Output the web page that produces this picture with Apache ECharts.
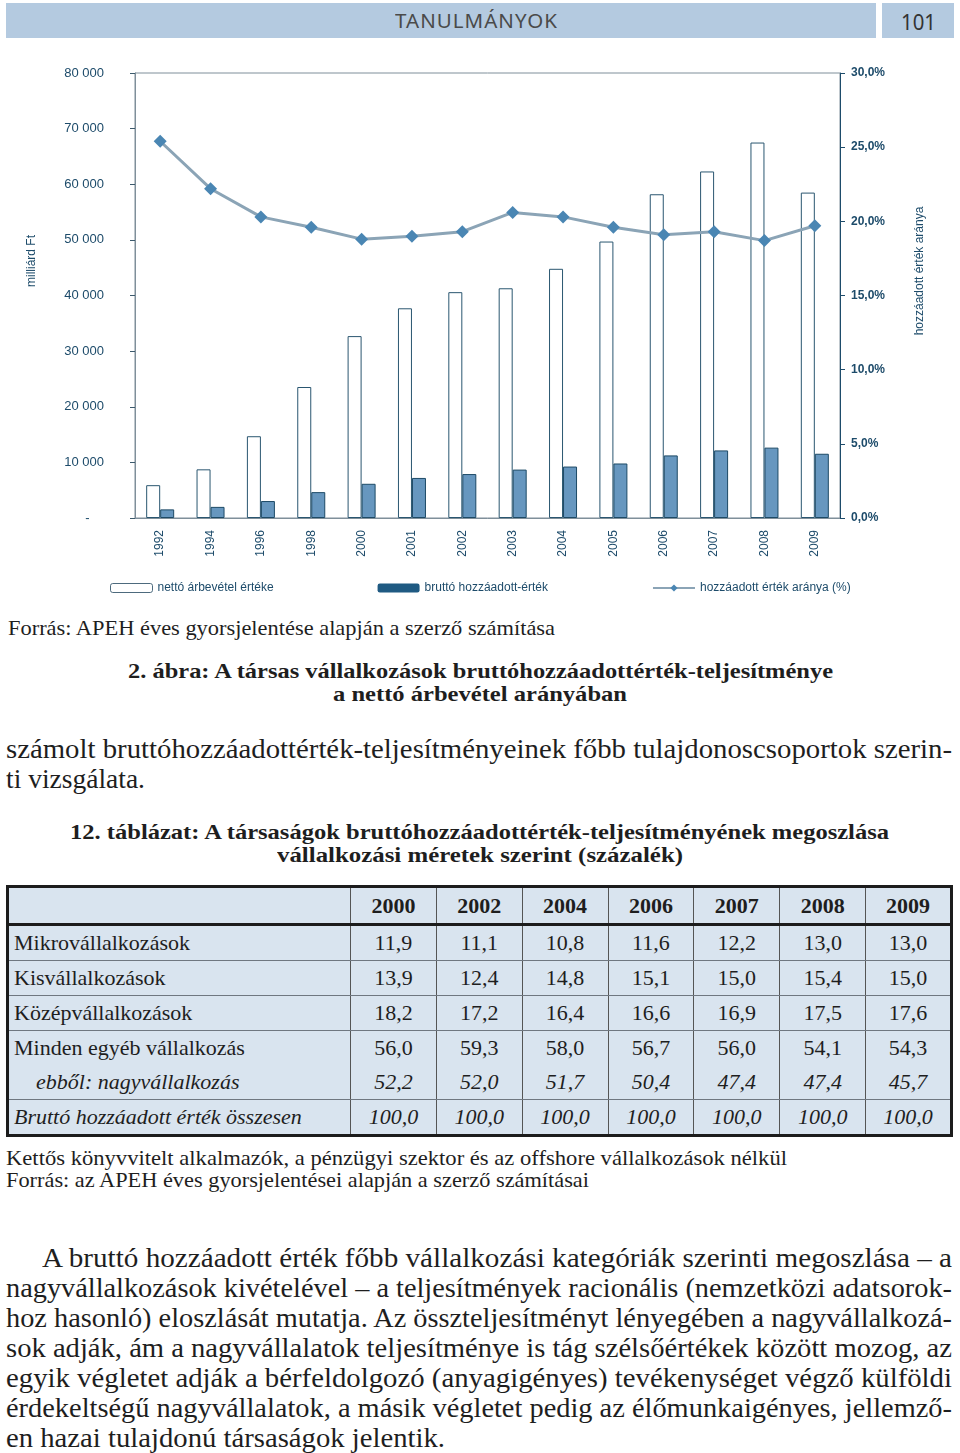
<!DOCTYPE html>
<html>
<head>
<meta charset="utf-8">
<script src="https://cdn.jsdelivr.net/npm/echarts@6/dist/echarts.min.js"></script>
<style>
  body { margin: 0; background: #fff; }
  #page { position: relative; width: 960px; height: 1453px; overflow: hidden; font-family: "Liberation Serif", serif; color: #1e1e1e; }
  .abs { position: absolute; white-space: nowrap; }
  .fit { display: inline-block; transform-origin: 0 50%; }
  .bar { position: absolute; background: #b4cae0; }
  #chart { position: absolute; left: 0; top: 45px; width: 960px; height: 565px; }
  table { position: absolute; left: 6px; top: 885px; width: 947px; border-collapse: collapse; background: #d9e4ef;
          border: 3px solid #1c1c1c; font-size: 22px; table-layout: fixed; }
  td { border-left: 1px solid #555; padding: 0; height: 34px; text-align: center; line-height: 34px; }
  td.name { text-align: left; padding-left: 5px; border-left: none; }
  tr.head td { font-weight: bold; font-size: 22px; height: 35px; line-height: 35px; border-bottom: 3px solid #1c1c1c; }
  tr.line td { border-bottom: 1px solid #6f7780; }
  tr.it td { font-style: italic; }
</style>
</head>
<body>
<div id="page">
  <div class="bar" style="left:6px;top:3px;width:870px;height:35px;"></div>
  <div class="bar" style="left:882px;top:3px;width:72px;height:35px;"></div>
  <div class="abs" style="left:395px;top:8px;font:20px 'Noto Sans';color:#4a4a4a;letter-spacing:1px;line-height:25px;"><span class="fit" data-w="163">TANULMÁNYOK</span></div>
  <div class="abs" style="left:901px;top:7px;font:22px 'Noto Sans';color:#333;line-height:28px;"><span class="fit" data-w="35">101</span></div>

  <div id="chart"></div>

  <div class="abs" style="left:8px;top:617px;font-size:21px;line-height:22px;"><span class="fit" data-w="547">Forrás: APEH éves gyorsjelentése alapján a szerző számítása</span></div>
  <div class="abs" style="left:128px;top:659px;font-size:22px;font-weight:bold;line-height:24px;"><span class="fit" data-w="705">2. ábra: A társas vállalkozások bruttóhozzáadottérték-teljesítménye</span></div>
  <div class="abs" style="left:333px;top:682px;font-size:22px;font-weight:bold;line-height:24px;"><span class="fit" data-w="294">a nettó árbevétel arányában</span></div>

  <div class="abs" style="left:6px;top:734px;font-size:28px;line-height:30px;"><span class="fit" data-w="946">számolt bruttóhozzáadottérték-teljesítményeinek főbb tulajdonoscsoportok szerin-</span></div>
  <div class="abs" style="left:6px;top:764px;font-size:28px;line-height:30px;"><span class="fit" data-w="139">ti vizsgálata.</span></div>

  <div class="abs" style="left:70px;top:820px;font-size:22px;font-weight:bold;line-height:24px;"><span class="fit" data-w="819">12. táblázat: A társaságok bruttóhozzáadottérték-teljesítményének megoszlása</span></div>
  <div class="abs" style="left:277px;top:843px;font-size:22px;font-weight:bold;line-height:24px;"><span class="fit" data-w="406">vállalkozási méretek szerint (százalék)</span></div>

  <table id="tbl"></table>

  <div class="abs" style="left:6px;top:1147px;font-size:21px;line-height:22px;"><span class="fit" data-w="781">Kettős könyvvitelt alkalmazók, a pénzügyi szektor és az offshore vállalkozások nélkül</span></div>
  <div class="abs" style="left:6px;top:1169px;font-size:21px;line-height:22px;"><span class="fit" data-w="583">Forrás: az APEH éves gyorsjelentései alapján a szerző számításai</span></div>

  <div class="abs" style="left:42px;top:1243px;font-size:28px;line-height:30px;"><span class="fit" data-w="910">A bruttó hozzáadott érték főbb vállalkozási kategóriák szerinti megoszlása – a</span></div>
  <div class="abs" style="left:6px;top:1273px;font-size:28px;line-height:30px;"><span class="fit" data-w="946">nagyvállalkozások kivételével – a teljesítmények racionális (nemzetközi adatsorok-</span></div>
  <div class="abs" style="left:6px;top:1303px;font-size:28px;line-height:30px;"><span class="fit" data-w="946">hoz hasonló) eloszlását mutatja. Az összteljesítményt lényegében a nagyvállalkozá-</span></div>
  <div class="abs" style="left:6px;top:1333px;font-size:28px;line-height:30px;"><span class="fit" data-w="946">sok adják, ám a nagyvállalatok teljesítménye is tág szélsőértékek között mozog, az</span></div>
  <div class="abs" style="left:6px;top:1363px;font-size:28px;line-height:30px;"><span class="fit" data-w="946">egyik végletet adják a bérfeldolgozó (anyagigényes) tevékenységet végző külföldi</span></div>
  <div class="abs" style="left:6px;top:1393px;font-size:28px;line-height:30px;"><span class="fit" data-w="946">érdekeltségű nagyvállalatok, a másik végletet pedig az élőmunkaigényes, jellemző-</span></div>
  <div class="abs" style="left:6px;top:1423px;font-size:28px;line-height:30px;"><span class="fit" data-w="439">en hazai tulajdonú társaságok jelentik.</span></div>
</div>

<script>
// chart data (milliárd Ft, %)
var years = ['1992','1994','1996','1998','2000','2001','2002','2003','2004','2005','2006','2007','2008','2009'];
var netRevenue = [5900, 8750, 14700, 23550, 32700, 37700, 40600, 41300, 44800, 49700, 58200, 62300, 67500, 58500];
var grossValueAdded = [1550, 2000, 3050, 4650, 6150, 7200, 7900, 8700, 9250, 9800, 11250, 12150, 12650, 11550];
var valueAddedRatio = [25.4, 22.2, 20.3, 19.6, 18.8, 19.0, 19.3, 20.6, 20.3, 19.6, 19.1, 19.3, 18.7, 19.7];

// table data (százalék)
var tableYears = ['2000','2002','2004','2006','2007','2008','2009'];
var microShare = [11.9, 11.1, 10.8, 11.6, 12.2, 13.0, 13.0];
var smallShare = [13.9, 12.4, 14.8, 15.1, 15.0, 15.4, 15.0];
var mediumShare = [18.2, 17.2, 16.4, 16.6, 16.9, 17.5, 17.6];
var otherShare = [56.0, 59.3, 58.0, 56.7, 56.0, 54.1, 54.3];
var largeShare = [52.2, 52.0, 51.7, 50.4, 47.4, 47.4, 45.7];
var totalShare = [100.0, 100.0, 100.0, 100.0, 100.0, 100.0, 100.0];

var navy = '#1d4b6a';
var fmtHu = function (v) { return v.toFixed(1).replace('.', ','); };

var myChart = echarts.init(document.getElementById('chart'));
option = {
    animation: false,
    grid: {
        left: 135, right: 120, top: 28, bottom: 92,
        show: true, borderColor: '#7f8f9a', borderWidth: 1
    },
    legend: {
        left: 105, top: 532,
        itemWidth: 42, itemHeight: 9, itemGap: 104,
        textStyle: { color: navy, fontSize: 12, fontFamily: 'Liberation Sans' },
        data: [
            { name: 'nettó árbevétel értéke', itemStyle: { color: '#fff', borderColor: '#4d6a7d', borderWidth: 1 } },
            { name: 'bruttó hozzáadott-érték', itemStyle: { color: '#1f5a82', borderWidth: 0 } },
            { name: 'hozzáadott érték aránya (%)' }
        ]
    },
    graphic: [
        { type: 'text', x: 32, y: 216, rotation: Math.PI / 2,
          style: { text: 'milliárd Ft', fill: navy, font: '12px Liberation Sans', align: 'center', verticalAlign: 'middle' } },
        { type: 'text', x: 920, y: 226, rotation: Math.PI / 2,
          style: { text: 'hozzáadott érték aránya', fill: navy, font: '12px Liberation Sans', align: 'center', verticalAlign: 'middle' } }
    ],
    xAxis: {
        type: 'category',
        data: years,
        axisLine: { lineStyle: { color: '#7f8f9a' } },
        axisTick: { length: 5, lineStyle: { color: '#3c5a6c' } },
        axisLabel: { rotate: 90, margin: 12, interval: 0, color: navy, fontSize: 12, fontFamily: 'Liberation Sans' }
    },
    yAxis: [
        {
            type: 'value', min: 0, max: 80000, interval: 10000,
            axisLine: { show: true, lineStyle: { color: '#7f8f9a' } },
            axisTick: { show: true, length: 5, lineStyle: { color: '#3c5a6c' } },
            splitLine: { show: false },
            axisLabel: {
                margin: 31, color: navy, fontSize: 13, fontFamily: 'Liberation Sans',
                formatter: function (v) { return v === 0 ? '-    ' : String(v / 1000) + ' 000'; }
            }
        },
        {
            type: 'value', position: 'right', min: 0, max: 30, interval: 5,
            axisLine: { show: true, lineStyle: { color: navy } },
            axisTick: { show: true, length: 5, lineStyle: { color: navy } },
            splitLine: { show: false },
            axisLabel: {
                margin: 11, color: navy, fontSize: 12, fontWeight: 'bold', fontFamily: 'Liberation Sans',
                formatter: function (v) { return fmtHu(v) + '%'; }
            }
        }
    ],
    series: [
        {
            name: 'nettó árbevétel értéke',
            type: 'bar',
            barWidth: 14, barGap: '0%',
            itemStyle: { color: '#fff', borderColor: '#2a5670', borderWidth: 1 },
            data: netRevenue
        },
        {
            name: 'bruttó hozzáadott-érték',
            type: 'bar',
            barWidth: 14,
            itemStyle: { color: '#6797bf', borderColor: '#1d4a66', borderWidth: 1 },
            data: grossValueAdded
        },
        {
            name: 'hozzáadott érték aránya (%)',
            type: 'line',
            yAxisIndex: 1,
            symbol: 'diamond', symbolSize: 13,
            itemStyle: { color: '#4a86b3' },
            lineStyle: { color: '#8ba4b6', width: 3 },
            data: valueAddedRatio
        }
    ]
};
myChart.setOption(option);

// table
var tableRows = [
    { name: 'Mikrovállalkozások', values: microShare, cls: 'line' },
    { name: 'Kisvállalkozások', values: smallShare, cls: 'line' },
    { name: 'Középvállalkozások', values: mediumShare, cls: 'line' },
    { name: 'Minden egyéb vállalkozás', values: otherShare, cls: '' },
    { name: '&nbsp;&nbsp;&nbsp;&nbsp;ebből: nagyvállalkozás', values: largeShare, cls: 'line it' },
    { name: 'Bruttó hozzáadott érték összesen', values: totalShare, cls: 'it' }
];
var html = '<colgroup><col style="width:343px">';
tableYears.forEach(function () { html += '<col>'; });
html += '</colgroup><tr class="head"><td class="name"></td>';
tableYears.forEach(function (y) { html += '<td>' + y + '</td>'; });
html += '</tr>';
tableRows.forEach(function (r) {
    html += '<tr class="' + r.cls + '"><td class="name">' + r.name + '</td>';
    r.values.forEach(function (v) { html += '<td>' + fmtHu(v) + '</td>'; });
    html += '</tr>';
});
document.getElementById('tbl').innerHTML = html;

// stretch text lines to the widths of the printed page
function fitLines() {
    document.querySelectorAll('.fit').forEach(function (el) {
        el.style.transform = '';
        var w = el.getBoundingClientRect().width;
        el.style.transform = 'scaleX(' + (parseFloat(el.dataset.w) / w) + ')';
    });
}
fitLines();
if (document.fonts) document.fonts.ready.then(fitLines);
</script>
</body>
</html>
